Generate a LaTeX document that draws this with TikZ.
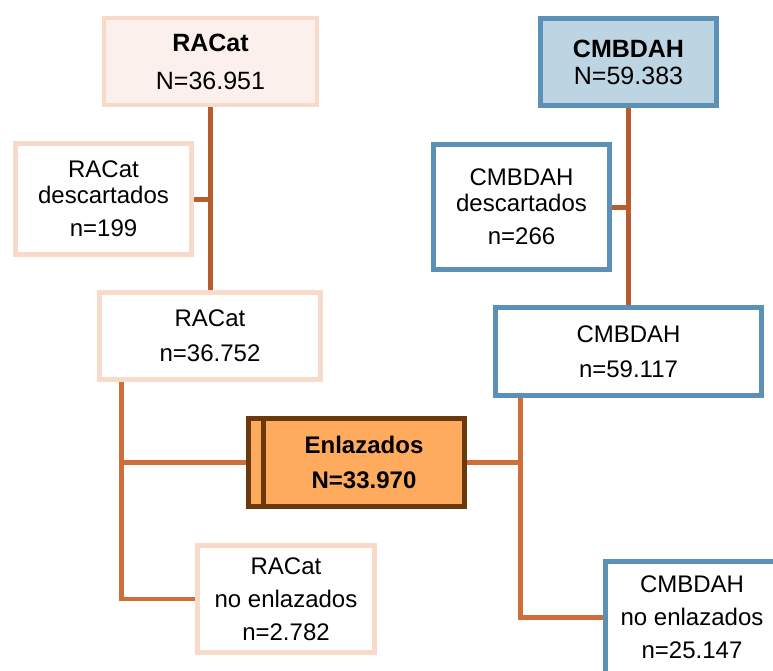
\documentclass[tikz,border=0pt]{standalone}
\usepackage{fontspec}
\setmainfont{Liberation Sans}
\usetikzlibrary{positioning,calc}
\definecolor{pnk}{HTML}{F7DACA}
\definecolor{pnkf}{HTML}{FBF0EB}
\definecolor{blu}{HTML}{5B91B6}
\definecolor{bluf}{HTML}{BDD5E2}
\definecolor{org}{HTML}{FFAB5E}
\definecolor{brn}{HTML}{6A3A0C}
\definecolor{lnkhi}{HTML}{B75C2D}
\definecolor{lnklo}{HTML}{D06E3A}
\tikzset{
  box/.style={rectangle, inner sep=0pt, align=center, line width=4.5pt, font=\fontsize{24}{33}\selectfont},
  pbox/.style={box, draw=pnk, fill=white},
  bbox/.style={box, draw=blu, fill=white},
  ebox/.style={box, draw=brn, fill=org, line width=5pt, minimum height=88pt},
  lnk/.style={line width=5pt, lnkhi},
  lnkb/.style={line width=4.5pt, lnklo},
}

\begin{document}
\begin{tikzpicture}[x=1pt,y=-1pt]
  \useasboundingbox (0,0) rectangle (773,671);
  % RACat side
  \node[pbox, fill=pnkf, minimum width=213pt, minimum height=87pt, font=\fontsize{25}{33}\selectfont] (racat) at (210.5,61.5) {\textbf{RACat}\\[5pt]N=36.951};
  \node[pbox, minimum width=176pt, minimum height=111pt] (racatdesc) at (103.5,199) {RACat\\[-7pt]descartados\\n=199};
  \node[pbox, minimum width=221pt, minimum height=87pt] (racatok) at (210,336) {RACat\\[2pt]n=36.752};
  \node[pbox, minimum width=177pt, minimum height=107pt] (racatno) at (286,599) {RACat\\no enlazados\\n=2.782};
  % CMBDAH side
  \node[bbox, fill=bluf, minimum width=176pt, minimum height=87pt, font=\fontsize{25}{33}\selectfont] (cmb) at (628.5,62) {\textbf{CMBDAH}\\[-6pt]N=59.383};
  \node[bbox, minimum width=176pt, minimum height=125pt] (cmbdesc) at (521.5,207) {CMBDAH\\[-7pt]descartados\\n=266};
  \node[bbox, minimum width=266pt, minimum height=88pt] (cmbok) at (628.5,351.5) {CMBDAH\\[2pt]n=59.117};
  \node[bbox, minimum width=173pt, minimum height=112pt] (cmbno) at (692,617.5) {CMBDAH\\no enlazados\\n=25.147};
  % linked records
  \node[ebox, minimum width=199pt] (enlbk) at (348,462.5) {};
  \node[ebox, minimum width=201pt] (enl) at (364,462.5) {\textbf{Enlazados}\\[2pt]\textbf{N=33.970}};
  % connectors
  \draw[lnk] (racat.south) -- (racat.south |- racatok.north);
  \draw[lnk] (racatdesc.east) -- (racatdesc.east -| racat.south);
  \draw[lnk] (cmb.south) -- (cmb.south |- cmbok.north);
  \draw[lnk] (cmbdesc.east) -- (cmbdesc.east -| cmb.south);
  \coordinate[right=24pt of racatok.south west] (ra);
  \draw[lnkb] (ra) |- (racatno.west);
  \draw[lnkb] (enlbk.west) -- (enlbk.west -| ra);
  \coordinate[right=27pt of cmbok.south west] (cb);
  \draw[lnkb] (cb) |- (cmbno.west);
  \draw[lnkb] (enl.east) -- (enl.east -| cb);
\end{tikzpicture}
\end{document}
